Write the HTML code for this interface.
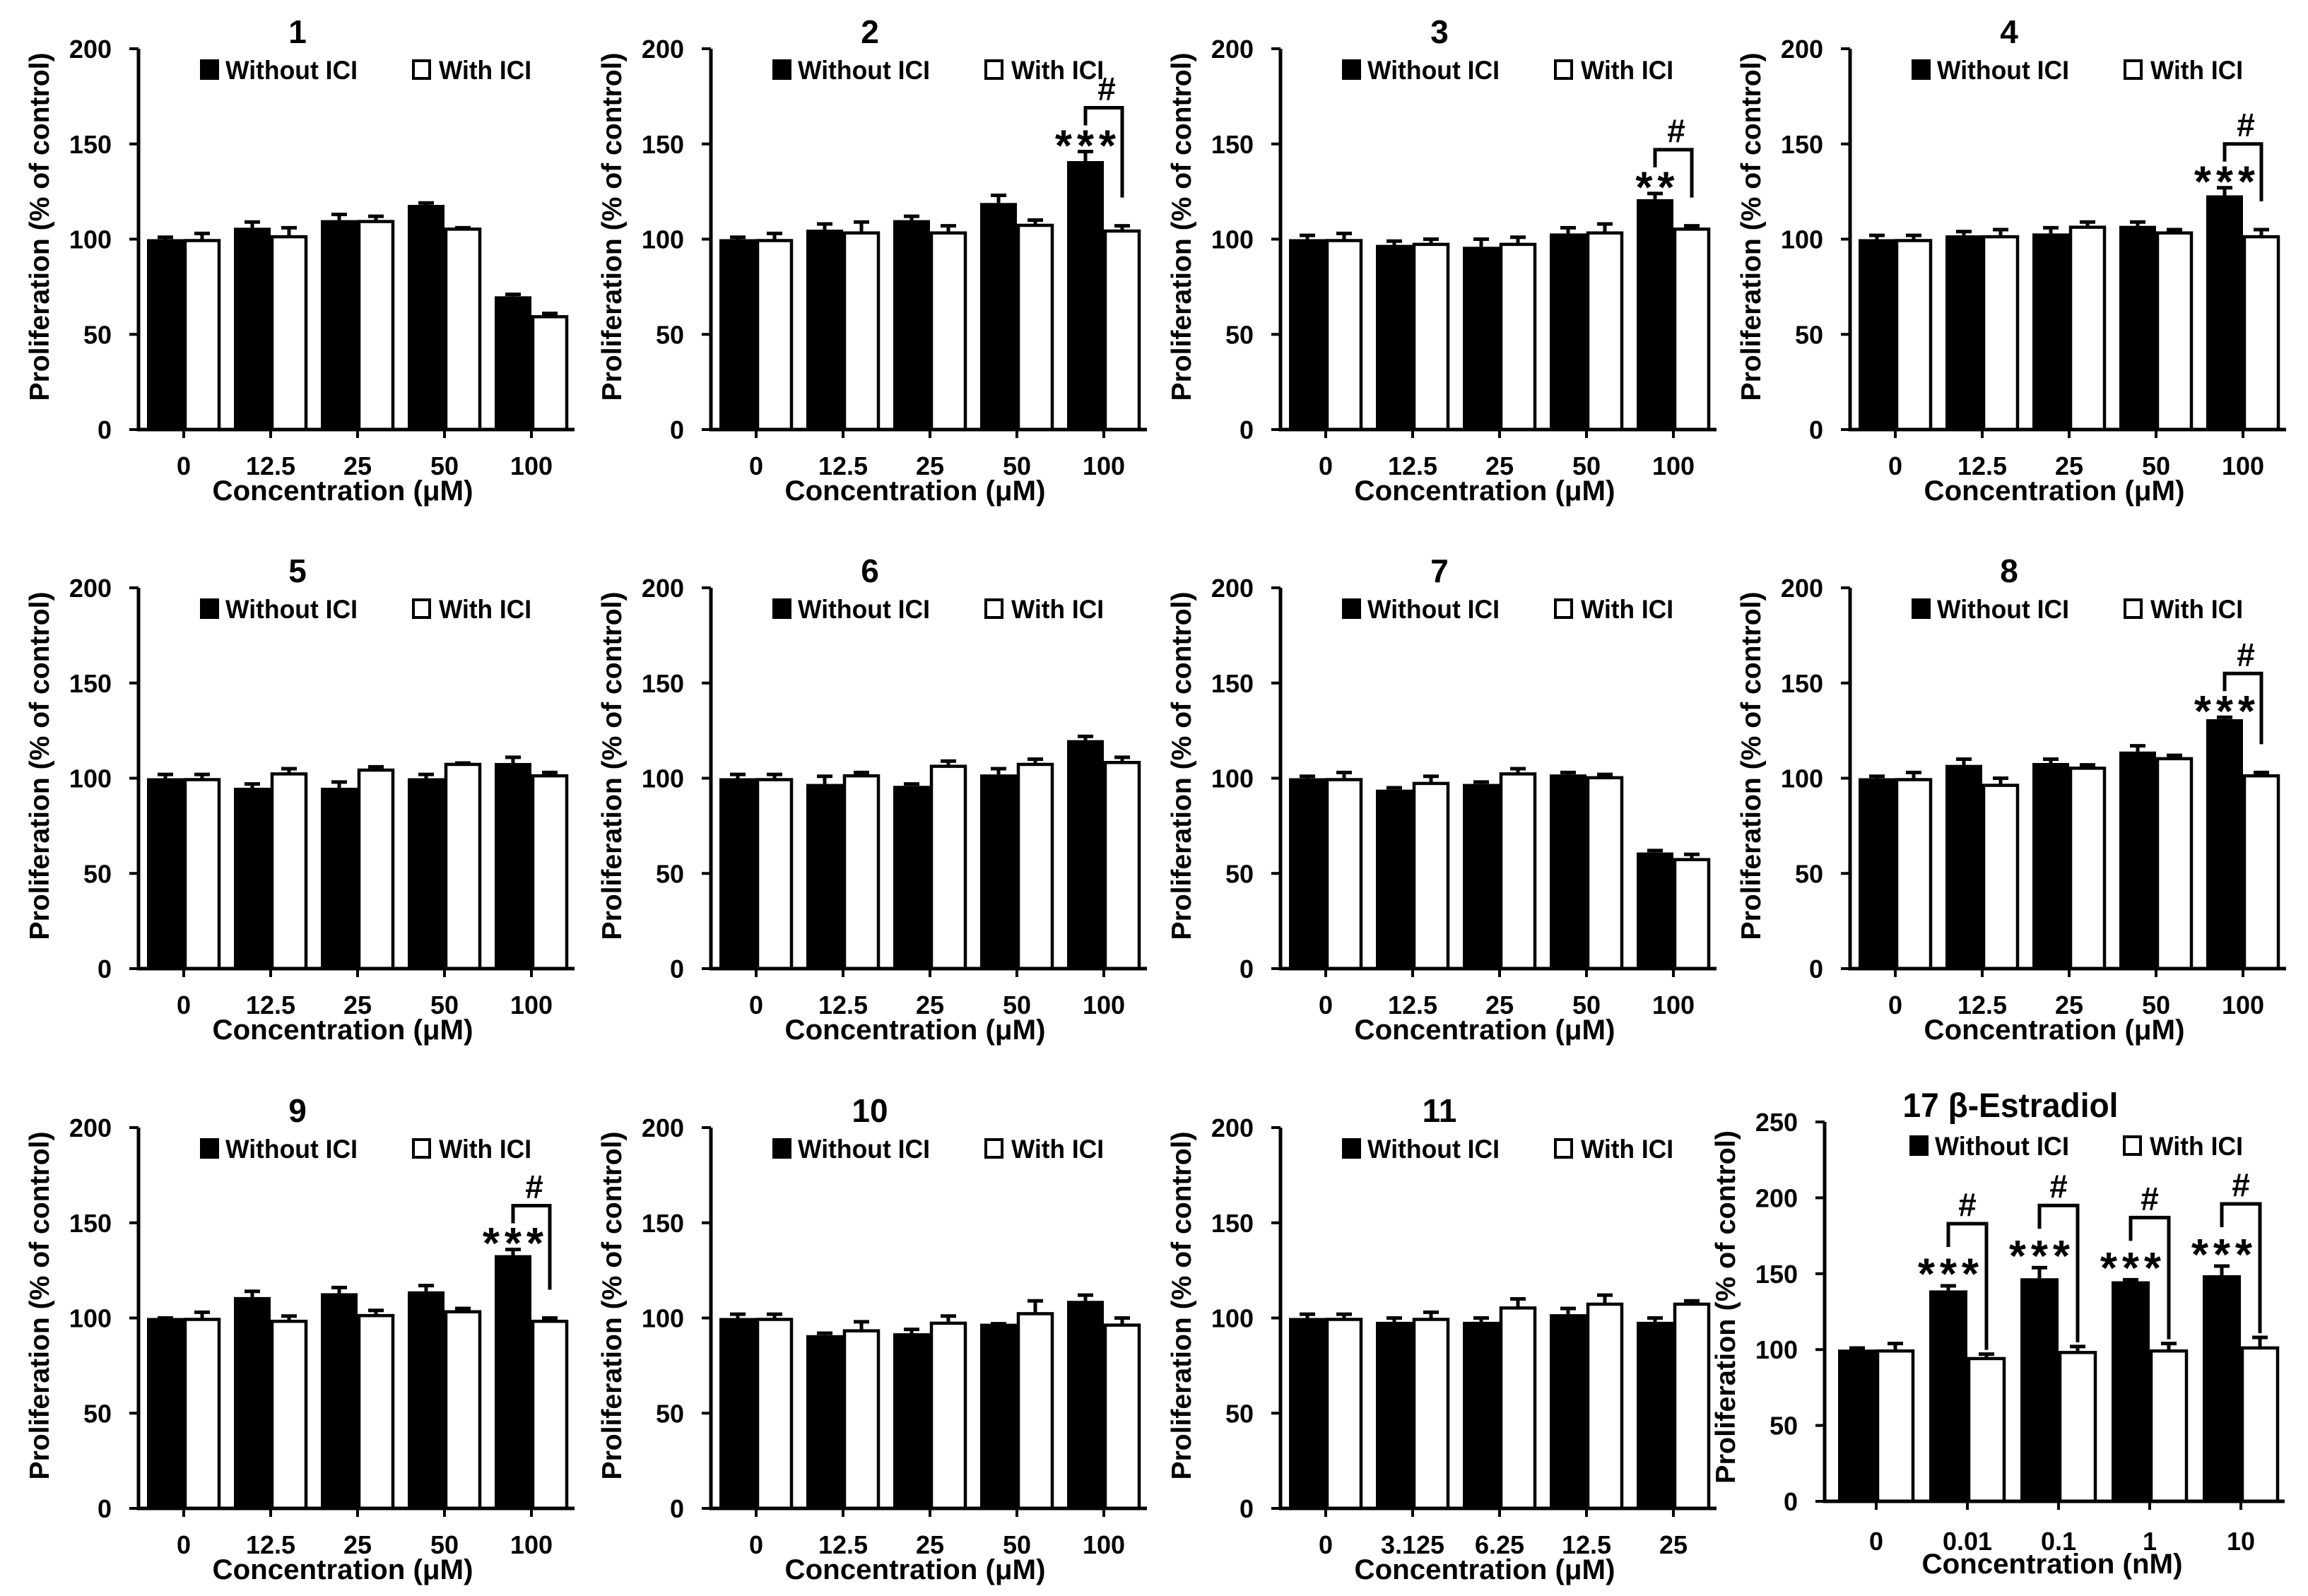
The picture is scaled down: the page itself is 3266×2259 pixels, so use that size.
<!DOCTYPE html>
<html><head><meta charset="utf-8"><style>
html,body{margin:0;padding:0;background:#fff;}
svg{display:block;font-family:"Liberation Sans",sans-serif;font-weight:bold;}
</style></head><body>
<svg id="fig" width="3266" height="2259" viewBox="0 0 3266 2259"></svg>
<script>
const cats = ["0","12.5","25","50","100"];
const cats11 = ["0","3.125","6.25","12.5","25"];
const cats12 = ["0","0.01","0.1","1","10"];
const titles = ["1","2","3","4","5","6","7","8","9","10","11","17 β-Estradiol"];
const black1=[100,106,110,118,70]; const blackErr1=[1,3,3,1,1]; const white1=[100,102,110,106,60]; const whiteErr1=[3,4,2,0,1];
const black2=[100,105,110,119,141]; const blackErr2=[1,3,2,4,5]; const white2=[100,104,104,108,105]; const whiteErr2=[3,5,3,2,2];
const black3=[100,97,96,103,121]; const blackErr3=[2,2,4,3,3]; const white3=[100,98,98,104,106]; const whiteErr3=[3,2,3,4,1];
const black4=[100,102,103,107,123]; const blackErr4=[2,2,3,2,4]; const white4=[100,102,107,104,102]; const whiteErr4=[2,3,2,1,3];
const black5=[100,95,95,100,108]; const blackErr5=[2,2,3,2,3]; const white5=[100,103,105,108,102]; const whiteErr5=[2,2,1,0,1];
const black6=[100,97,96,102,120]; const blackErr6=[2,4,1,3,2]; const white6=[100,102,107,108,109]; const whiteErr6=[2,1,2,2,2];
const black7=[100,94,97,102,61]; const blackErr7=[1,1,1,1,1]; const white7=[100,98,103,101,58]; const whiteErr7=[3,3,2,1,2];
const black8=[100,107,108,114,131]; const blackErr8=[1,3,2,3,1]; const white8=[100,97,106,111,102]; const whiteErr8=[3,3,1,1,1];
const black9=[100,111,113,114,133]; const blackErr9=[0,3,3,3,3]; const white9=[100,99,102,104,99]; const whiteErr9=[3,2,2,1,1];
const black10=[100,91,92,97,109]; const blackErr10=[2,1,2,0,3]; const white10=[100,94,98,103,97]; const whiteErr10=[2,4,3,6,3];
const black11=[100,98,98,102,98]; const blackErr11=[2,2,2,3,2]; const white11=[100,100,106,108,108]; const whiteErr11=[2,3,4,4,1];
const black12=[100,139,147,145,149]; const blackErr12=[1,3,7,1,6]; const white12=[100,95,99,100,102]; const whiteErr12=[4,2,3,4,6];
const stars2=["","","","","***"]; const stars3=["","","","","**"]; const stars4=["","","","","***"];
const stars8=["","","","","***"]; const stars9=["","","","","***"]; const stars12=["","***","***","***","***"];
const none=["","","","",""];
const ticks200=[0,50,100,150,200]; const ticks250=[0,50,100,150,200,250];

const NS="http://www.w3.org/2000/svg";
const svg=document.getElementById('fig');
function mk(tag,attrs,parent){const e=document.createElementNS(NS,tag);for(const k in attrs)e.setAttribute(k,attrs[k]);(parent||svg).appendChild(e);return e;}

const panels=[
 {c:cats,b:black1,be:blackErr1,w:white1,we:whiteErr1,s:none},
 {c:cats,b:black2,be:blackErr2,w:white2,we:whiteErr2,s:stars2},
 {c:cats,b:black3,be:blackErr3,w:white3,we:whiteErr3,s:stars3},
 {c:cats,b:black4,be:blackErr4,w:white4,we:whiteErr4,s:stars4},
 {c:cats,b:black5,be:blackErr5,w:white5,we:whiteErr5,s:none},
 {c:cats,b:black6,be:blackErr6,w:white6,we:whiteErr6,s:none},
 {c:cats,b:black7,be:blackErr7,w:white7,we:whiteErr7,s:none},
 {c:cats,b:black8,be:blackErr8,w:white8,we:whiteErr8,s:stars8},
 {c:cats,b:black9,be:blackErr9,w:white9,we:whiteErr9,s:stars9},
 {c:cats,b:black10,be:blackErr10,w:white10,we:whiteErr10,s:none},
 {c:cats11,b:black11,be:blackErr11,w:white11,we:whiteErr11,s:none},
 {c:cats12,b:black12,be:blackErr12,w:white12,we:whiteErr12,s:stars12}
];
const colX=[196,1006,1812,2618];
const rowY=[608,1371,2135];

panels.forEach((p,i)=>{
  const est = i===11;
  const ax = est?2582:colX[i%4];
  const y0 = est?2125:rowY[Math.floor(i/4)];
  const ymax = est?250:200;
  const ticks = est?ticks250:ticks200;
  const plotH = est?537:539;
  const first = est?73:64, sp = est?129:123, axEnd = est?651:617, bw = est?54:52;
  const Y=v=>y0 - v/ymax*plotH;
  const X=k=>ax+first+k*sp;
  const g=mk('g',{});
  
  
  const t=mk('text',{x:est?2845:ax+225,y:est?1581:y0-547,'text-anchor':'middle','font-size':est?48:46},g);
  if(est){t.setAttribute('textLength',305);t.setAttribute('lengthAdjust','spacingAndGlyphs');}
  t.textContent=titles[i];
  
  
  const lx = est?ax+120:ax+87, ly = est?y0-518:y0-524;
  const lg=mk('g',{},g);
  
  
  mk('rect',{x:lx,y:ly,width:27,height:29,fill:'#000'},lg);
  const t1=mk('text',{x:lx+36,y:ly+28,'font-size':37,textLength:est?190:187,lengthAdjust:'spacingAndGlyphs'},lg);
  t1.textContent='Without ICI';
  
  
  const wx = est?lx+302:lx+300;
  mk('rect',{x:wx+2,y:ly+2,width:23,height:25,fill:'#fff',stroke:'#000','stroke-width':4},lg);
  const t2=mk('text',{x:wx+38,y:ly+28,'font-size':37,textLength:est?132:131,lengthAdjust:'spacingAndGlyphs'},lg);
  t2.textContent='With ICI';
  
  
  ticks.forEach(v=>{
    mk('line',{x1:ax-13,x2:ax,y1:Y(v),y2:Y(v),stroke:'#000','stroke-width':4},g);
    const tl=mk('text',{x:ax-38,y:Y(v)+13,'text-anchor':'end','font-size':36},g);
    tl.textContent=v;
    
    
  });
  const ytx = ax-141, yty = est?1850:y0-287;
  const yt=mk('text',{x:0,y:0,'text-anchor':'middle','font-size':39,transform:`translate(${ytx+14},${yty}) rotate(-90)`,textLength:est?500:493,lengthAdjust:'spacingAndGlyphs'},g);
  yt.textContent='Proliferation  (% of control)';
  
  
  p.c.forEach((c,k)=>{
    const cx=X(k);
    const bt=Y(p.b[k]), wt=Y(p.w[k]);
    const br=mk('rect',{x:cx-bw,y:bt,width:bw,height:y0-bt,fill:'#000'},g);
    
    
    const wr=mk('rect',{x:cx+2,y:wt+2,width:bw-4,height:y0-wt-2,fill:'#fff',stroke:'#000','stroke-width':4.5},g);
    
    
    const bc=cx-bw/2, wc=cx+bw/2;
    const be=Y(p.b[k]+p.be[k]), we=Y(p.w[k]+p.we[k]);
    mk('path',{d:`M${bc},${bt} V${be} M${bc-11},${be} H${bc+11}`,stroke:'#000','stroke-width':5,fill:'none'},g);
    mk('path',{d:`M${wc},${wt} V${we} M${wc-11},${we} H${wc+11}`,stroke:'#000','stroke-width':5,fill:'none'},g);
    const cl=mk('text',{x:cx,y:y0+(est?69:64),'text-anchor':'middle','font-size':36},g);
    cl.textContent=c;
    
    
    mk('line',{x1:cx,x2:cx,y1:y0,y2:y0+12,stroke:'#000','stroke-width':4},g);
    const s=p.s[k];
    if(s){
      const gs = est?[30,55,88]:[22,37,62];
      const sc = be-gs[0];
      const fs=62, step=31;
      const sg=mk('g',{},g);
      
      
      for(let j=0;j<s.length;j++){
        const st=mk('text',{x:bc+(j-(s.length-1)/2)*step,y:sc+0.56*fs,'text-anchor':'middle','font-size':fs},sg);
        st.textContent='*';
      }
      const top=be-gs[2];
      const rb = est? we-6 : we-40;
      const br2=mk('path',{d:`M${bc},${be-gs[1]} V${top} H${wc} V${rb}`,stroke:'#000','stroke-width':5,fill:'none'},g);
      
      
      const h=mk('text',{x:(bc+wc)/2+(est?0:4),y:top-11,'text-anchor':'middle','font-size':46},g);
      h.textContent='#';
      
      
    }
  });
  mk('path',{d:`M${ax},${Y(ymax)} V${y0} H${ax+axEnd}`,stroke:'#000','stroke-width':5,fill:'none'},g);
  mk('line',{x1:ax-13,x2:ax,y1:y0,y2:y0,stroke:'#000','stroke-width':4},g);
  const xt=mk('text',{x:est?2904:ax+289,y:y0+(est?102:100),'text-anchor':'middle','font-size':40,textLength:369,lengthAdjust:'spacingAndGlyphs'},g);
  xt.textContent=est?'Concentration (nM)':'Concentration (μM)';
  
  
});
</script>
</body></html>
